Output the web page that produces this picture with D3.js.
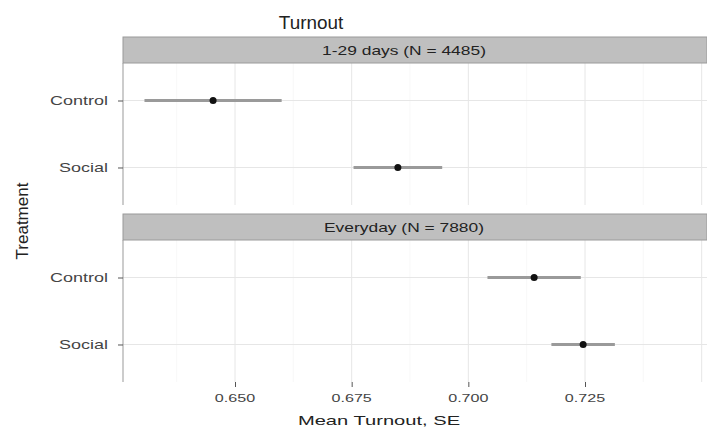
<!DOCTYPE html>
<html>
<head>
<meta charset="utf-8">
<script src="https://cdn.jsdelivr.net/npm/d3@7"></script>
<style>
  body { margin: 0; background: #fff; }
  text { font-family: "Liberation Sans", Arial, sans-serif; }
</style>
</head>
<body>
<div id="chart"></div>
<script>
// panels, categories and estimates
var panels = ["1-29 days (N = 4485)", "Everyday (N = 7880)"];
var treatments = ["Control", "Social"];
var means = [[0.6453, 0.6849], [0.7141, 0.7246]];
var ses = [[0.0147, 0.0095], [0.0100, 0.0068]];
var xTicks = [0.650, 0.675, 0.700, 0.725];

var W = 707, H = 429;
var left = 123, right = 707;
var stripH = 26, panelH = 142;
var panelTops = [63, 240];

var svg = d3.select("#chart").append("svg")
  .attr("width", W).attr("height", H);

// text is drawn a bit wide, like the picture
function label(g, x, y, txt, size, sx, anchor, fill) {
  return g.append("text")
    .attr("transform", "translate(" + x + "," + y + ") scale(" + sx + ",1)")
    .attr("text-anchor", anchor)
    .attr("font-size", size + "px")
    .attr("fill", fill || "#333")
    .text(txt);
}

var x = d3.scaleLinear().domain([0.65, 0.725]).range([235, 585]);
var minor = d3.range(0.6375, 0.76, 0.025);
var major = d3.range(0.625, 0.76, 0.025);

panels.forEach(function(name, i) {
  var top = panelTops[i];
  var y = d3.scalePoint().domain(treatments)
    .range([top, top + panelH]).padding(0.56);

  var g = svg.append("g");

  g.append("rect")
    .attr("x", left).attr("y", top)
    .attr("width", right - left).attr("height", panelH)
    .style("fill", "#fff");

  // grid
  g.selectAll(".minor").data(minor.filter(function(v){ return x(v) > left && x(v) < right; }))
    .enter().append("line")
    .attr("x1", function(d){ return x(d); }).attr("x2", function(d){ return x(d); })
    .attr("y1", top).attr("y2", top + panelH)
    .style("stroke", "#f3f3f3").style("stroke-width", 0.6);
  g.selectAll(".major").data(major.filter(function(v){ return x(v) > left && x(v) < right; }))
    .enter().append("line")
    .attr("x1", function(d){ return x(d); }).attr("x2", function(d){ return x(d); })
    .attr("y1", top).attr("y2", top + panelH)
    .style("stroke", "#e6e6e6").style("stroke-width", 1);
  g.selectAll(".hgrid").data(treatments)
    .enter().append("line")
    .attr("x1", left).attr("x2", right)
    .attr("y1", function(d){ return y(d); }).attr("y2", function(d){ return y(d); })
    .style("stroke", "#e6e6e6").style("stroke-width", 1);

  // panel border (left side visible)
  g.append("line")
    .attr("x1", left).attr("x2", left)
    .attr("y1", top).attr("y2", top + panelH)
    .style("stroke", "#999").style("stroke-width", 1);

  // strip
  g.append("rect")
    .attr("x", left).attr("y", top - stripH)
    .attr("width", right - left).attr("height", stripH)
    .style("fill", "#bfbfbf").style("stroke", "#9a9a9a").style("stroke-width", 1);
  label(g, 404, top - stripH / 2 + 4.5, name, 12, 1.45, "middle", "#222");

  // y axis
  var ya = g.append("g").attr("transform", "translate(" + left + ",0)")
    .call(d3.axisLeft(y).tickSize(5).tickPadding(4));
  ya.select(".domain").remove();
  ya.selectAll("line").style("stroke", "#555");
  ya.selectAll("text").remove();
  treatments.forEach(function(t) {
    label(g, 108, y(t) + 4.5, t, 12, 1.5, "end", "#444");
  });

  // error bars and points
  var rows = treatments.map(function(t, j) {
    return { t: t, m: means[i][j], se: ses[i][j] };
  });
  g.selectAll(".err").data(rows).enter().append("line")
    .attr("x1", function(d){ return x(d.m - d.se); })
    .attr("x2", function(d){ return x(d.m + d.se); })
    .attr("y1", function(d){ return y(d.t); })
    .attr("y2", function(d){ return y(d.t); })
    .style("stroke", "#9a9a9a").style("stroke-width", 3);
  g.selectAll(".pt").data(rows).enter().append("circle")
    .attr("cx", function(d){ return x(d.m); })
    .attr("cy", function(d){ return y(d.t); })
    .attr("r", 3.5)
    .style("fill", "#111");
});

// x axis under bottom panel
var bottom = panelTops[1] + panelH;
var xa = svg.append("g").attr("transform", "translate(0," + bottom + ")")
  .call(d3.axisBottom(x).tickValues(xTicks).tickSize(5));
xa.select(".domain").remove();
xa.selectAll("line").style("stroke", "#555");
xa.selectAll("text").remove();
xTicks.forEach(function(v) {
  label(svg, x(v), bottom + 20, d3.format(".3f")(v), 11.5, 1.4, "middle", "#444");
});

// titles
label(svg, 311, 29, "Turnout", 18, 1.05, "middle", "#222");
label(svg, 379, 425, "Mean Turnout, SE", 13, 1.55, "middle", "#222");
svg.append("text")
  .attr("transform", "translate(28,221) rotate(-90)")
  .attr("text-anchor", "middle").attr("font-size", "17px").attr("fill", "#222")
  .text("Treatment");
</script>
</body>
</html>
